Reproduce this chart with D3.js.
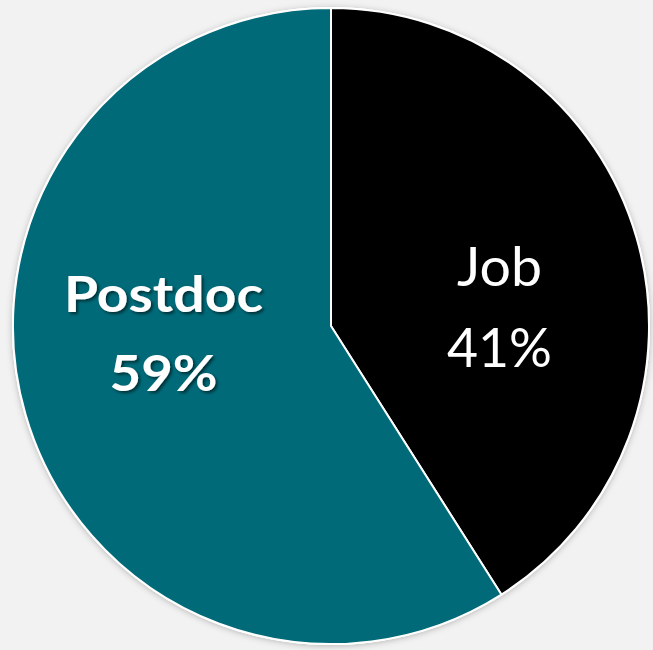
<!DOCTYPE html>
<html>
<head>
<meta charset="utf-8">
<script src="https://cdn.jsdelivr.net/npm/d3@7"></script>
<style>
  html, body { margin: 0; padding: 0; background: #F2F2F2; }
  svg { display: block; }
</style>
</head>
<body>
<svg id="chart" width="653" height="650"></svg>
<script>
const categories = ["Job", "Postdoc"];
const values = [41, 59];
const percentLabels = ["41%", "59%"];
const colors = ["#000000", "#006A78"];

const W = 653, H = 650;
const cx = 331, cy = 326, R = 318;

const svg = d3.select("#chart");
svg.append("rect").attr("width", W).attr("height", H).attr("fill", "#F2F2F2");

const defs = svg.append("defs");
const sh = defs.append("filter").attr("id", "pieShadow")
  .attr("x", "-10%").attr("y", "-10%").attr("width", "120%").attr("height", "120%");
sh.append("feDropShadow").attr("dx", 0).attr("dy", 1).attr("stdDeviation", 3)
  .attr("flood-color", "#000").attr("flood-opacity", 0.25);
const tsh = defs.append("filter").attr("id", "textShadow")
  .attr("x", "-10%").attr("y", "-20%").attr("width", "130%").attr("height", "150%");
tsh.append("feDropShadow").attr("dx", 2).attr("dy", 2).attr("stdDeviation", 1.5)
  .attr("flood-color", "#000").attr("flood-opacity", 0.55);

const data = categories.map((c, i) => ({ name: c, value: values[i], pct: percentLabels[i], color: colors[i] }));

const pie = d3.pie().sort(null).value(d => d.value);
const arc = d3.arc().innerRadius(0).outerRadius(R);
const arcs = pie(data);

const g = svg.append("g").attr("transform", `translate(${cx},${cy})`);

g.append("circle").attr("r", R + 1).attr("fill", "#fff").attr("filter", "url(#pieShadow)");

g.selectAll("path.slice").data(arcs).enter().append("path")
  .attr("class", "slice")
  .attr("d", arc)
  .attr("fill", d => d.data.color)
  .attr("stroke", "#FFFFFF")
  .attr("stroke-width", 2)
  .attr("stroke-linejoin", "round");

// label layout (relative to pie centre)
const labelStyle = {
  Job:     { dx: 168, dy: 0, nameY: -40, pctY: 41, weight: 400, size: 55, nameW: 85, pctW: 105, shadow: false },
  Postdoc: { dx: -168, dy: 0, nameY: -14, pctY: 65, weight: 700, size: 49, nameW: 199, pctW: 108, shadow: true }
};

arcs.forEach(a => {
  const s = labelStyle[a.data.name];
  const lg = g.append("g").attr("transform", `translate(${s.dx + 0.5},${s.dy})`);
  if (s.shadow) lg.attr("filter", "url(#textShadow)");
  [[a.data.name, s.nameY, s.nameW], [a.data.pct, s.pctY, s.pctW]].forEach(([t, y, w]) => {
    lg.append("text")
      .attr("x", 0).attr("y", y)
      .attr("text-anchor", "middle")
      .attr("font-family", "Lato, 'Open Sans', sans-serif")
      .attr("font-weight", s.weight)
      .attr("font-size", s.size)
      .attr("fill", "#FFFFFF")
      .attr("textLength", w)
      .attr("lengthAdjust", "spacingAndGlyphs")
      .text(t);
  });
});
</script>
</body>
</html>
